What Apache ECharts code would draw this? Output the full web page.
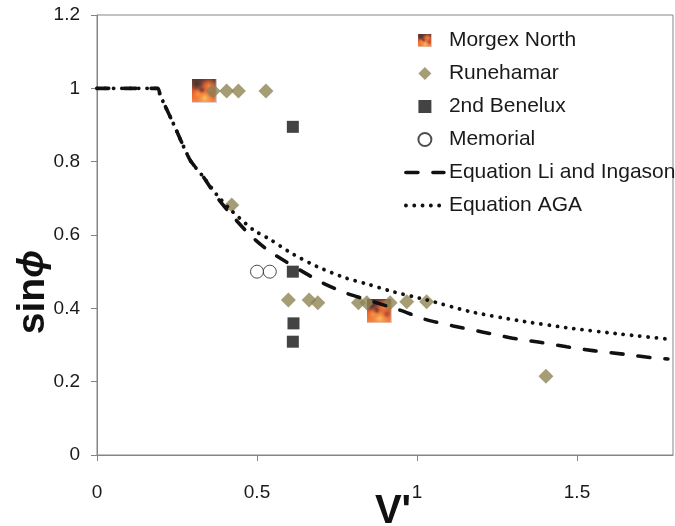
<!DOCTYPE html>
<html>
<head>
<meta charset="utf-8">
<script src="https://cdn.jsdelivr.net/npm/echarts@6/dist/echarts.min.js"></script>
<style>
  html, body { margin: 0; padding: 0; background: #ffffff; }
  #chart { width: 675px; height: 526px; }
</style>
</head>
<body>
<div id="chart"></div>
<script>
// ---- measured values ----
const morgexX = [0.335, 0.882];
const morgexY = [0.993, 0.392];

const runehamarX = [0.363, 0.405, 0.442, 0.528, 0.421, 0.598, 0.663, 0.690, 0.817, 0.843, 0.916, 0.968, 1.030, 1.403];
const runehamarY = [0.993, 0.993, 0.993, 0.993, 0.682, 0.423, 0.423, 0.415, 0.415, 0.415, 0.415, 0.418, 0.418, 0.215];

const beneluxX = [0.612, 0.612, 0.614, 0.612];
const beneluxY = [0.895, 0.500, 0.359, 0.309];

const memorialX = [0.500, 0.540];
const memorialY = [0.500, 0.500];

// Li and Ingason correlation
const liX = [0, 0.19, 0.197, 0.238, 0.291, 0.332, 0.374, 0.416, 0.478, 0.541, 0.697, 0.780, 0.947, 1.025, 1.113, 1.207, 1.291, 1.379, 1.468, 1.556, 1.645, 1.738, 1.784];
const liY = [1, 1, 0.982, 0.905, 0.804, 0.759, 0.704, 0.659, 0.600, 0.554, 0.473, 0.441, 0.395, 0.370, 0.352, 0.335, 0.320, 0.308, 0.295, 0.284, 0.275, 0.265, 0.262];

// AGA correlation
const agaX = [0, 0.19, 0.197, 0.238, 0.291, 0.332, 0.374, 0.416, 0.488, 0.541, 0.608, 0.687, 0.780, 0.853, 0.926, 1.030, 1.166, 1.322, 1.478, 1.634, 1.785];
const agaY = [1, 1, 0.982, 0.905, 0.804, 0.759, 0.710, 0.670, 0.614, 0.588, 0.550, 0.514, 0.482, 0.464, 0.445, 0.423, 0.391, 0.366, 0.346, 0.330, 0.316];

const xTickValues = [0, 0.5, 1, 1.5];
const seriesNames = ['Morgex North', 'Runehamar', '2nd Benelux', 'Memorial', 'Equation Li and Ingason', 'Equation AGA'];

const zip = (xs, ys) => xs.map((x, i) => [x, ys[i]]);

// Small flame picture used as the Morgex North marker
function flameIcon() {
  const c = document.createElement('canvas');
  c.width = 50; c.height = 48;
  const g = c.getContext('2d');
  let lg = g.createLinearGradient(0, 0, 0, 48);
  lg.addColorStop(0, '#3a0800');
  lg.addColorStop(0.45, '#c62e00');
  lg.addColorStop(1, '#ff6a12');
  g.fillStyle = lg;
  g.fillRect(0, 0, 50, 48);
  const blob = (x, y, r, inner, outer) => {
    const rg = g.createRadialGradient(x, y, 0, x, y, r);
    rg.addColorStop(0, inner);
    rg.addColorStop(1, outer);
    g.fillStyle = rg;
    g.beginPath(); g.arc(x, y, r, 0, Math.PI * 2); g.fill();
  };
  blob(34, 14, 16, 'rgba(255,110,20,0.95)', 'rgba(255,80,0,0)');
  blob(26, 38, 18, 'rgba(255,190,60,0.9)', 'rgba(255,120,20,0)');
  blob(12, 30, 12, 'rgba(255,140,30,0.8)', 'rgba(255,100,0,0)');
  blob(10, 10, 14, 'rgba(10,0,0,0.95)', 'rgba(20,0,0,0)');
  blob(20, 22, 7, 'rgba(30,0,0,0.8)', 'rgba(30,0,0,0)');
  blob(40, 30, 8, 'rgba(120,10,0,0.7)', 'rgba(120,10,0,0)');
  g.strokeStyle = 'rgba(200,210,225,0.9)';
  g.lineWidth = 2;
  g.beginPath(); g.moveTo(49, 0); g.lineTo(49, 47); g.lineTo(0, 47); g.stroke();
  return 'image://' + c.toDataURL('image/png');
}
const flame = flameIcon();

// legend icons drawn as paths so they keep a square aspect
const diamondIcon = 'path://M5,0L10,5L5,10L0,5Z';
const squareIcon = 'path://M0,0L10,0L10,10L0,10Z';

const FONT = "'Liberation Sans', Arial, sans-serif";
const axisGray = '#858585';

const dashedStyle = { color: '#111', width: 3.6, type: [12, 15], cap: 'round' };
const dottedStyle = { color: '#111', width: 3.8, type: [0.1, 8.2], cap: 'round' };

const chart = echarts.init(document.getElementById('chart'), null, { renderer: 'canvas' });

chart.setOption({
  backgroundColor: '#ffffff',
  animation: false,
  grid: {
    left: 97, top: 15, right: 2, bottom: 71,
    show: true, borderColor: axisGray, borderWidth: 1, backgroundColor: 'transparent'
  },
  xAxis: {
    type: 'value', min: 0, max: 1.8, interval: 0.5,
    axisLine: { show: true, onZero: false, lineStyle: { color: axisGray, width: 1 } },
    axisTick: { show: true, length: 6, lineStyle: { color: axisGray }, customValues: xTickValues },
    axisLabel: { margin: 28, color: '#1a1a1a', fontSize: 19, fontFamily: FONT, customValues: xTickValues },
    splitLine: { show: false }
  },
  yAxis: {
    type: 'value', min: 0, max: 1.2, interval: 0.2,
    axisLine: { show: true, lineStyle: { color: axisGray, width: 1 } },
    axisTick: { show: true, length: 6, lineStyle: { color: axisGray } },
    axisLabel: { margin: 17, color: '#1a1a1a', fontSize: 19, fontFamily: FONT,
      formatter: v => String(+v.toFixed(1)) },
    splitLine: { show: false }
  },
  legend: {
    orient: 'vertical', left: 404, top: 30, padding: 0,
    itemWidth: 38, itemHeight: 13, itemGap: 12, symbolKeepAspect: true,
    textStyle: { fontSize: 21, fontFamily: FONT, color: '#1a1a1a', lineHeight: 21 },
    data: [
      { name: seriesNames[0] },
      { name: seriesNames[1], icon: diamondIcon },
      { name: seriesNames[2], icon: squareIcon, itemStyle: { color: '#141414' } },
      { name: seriesNames[3] },
      { name: seriesNames[4], itemStyle: { opacity: 0 }, lineStyle: dashedStyle },
      { name: seriesNames[5], itemStyle: { opacity: 0 }, lineStyle: dottedStyle }
    ]
  },
  graphic: [
    {
      type: 'text', x: 33, y: 292, rotation: Math.PI / 2,
      style: {
        text: '{a|sin}{b|ϕ}',
        align: 'center', verticalAlign: 'middle',
        rich: {
          a: { font: "bold 39px 'Liberation Sans', Arial, sans-serif", fill: '#111' },
          b: { font: "italic bold 37px 'Liberation Sans', 'DejaVu Sans', sans-serif", fill: '#111' }
        }
      }
    },
    {
      type: 'text', x: 393, y: 492,
      style: {
        text: "V'", align: 'center', verticalAlign: 'top',
        font: "bold 40px 'Liberation Sans', Arial, sans-serif", fill: '#111'
      }
    }
  ],
  series: [
    {
      name: seriesNames[0], type: 'scatter',
      symbol: flame, symbolSize: [25, 24],
      data: zip(morgexX, morgexY), z: 2
    },
    {
      name: seriesNames[1], type: 'scatter',
      symbol: 'diamond', symbolSize: 15,
      itemStyle: { color: '#8f8554' },
      data: zip(runehamarX, runehamarY), z: 3
    },
    {
      name: seriesNames[2], type: 'scatter',
      symbol: 'rect', symbolSize: 12,
      itemStyle: { color: '#141414' },
      data: zip(beneluxX, beneluxY), z: 3
    },
    {
      name: seriesNames[3], type: 'scatter',
      symbol: 'circle', symbolSize: 13,
      itemStyle: { color: '#ffffff', borderColor: '#222', borderWidth: 1 },
      data: zip(memorialX, memorialY), z: 3
    },
    {
      name: seriesNames[4], type: 'line',
      symbol: 'none', showSymbol: false, smooth: 0.2,
      lineStyle: dashedStyle,
      itemStyle: { color: '#111' },
      data: zip(liX, liY), z: 4
    },
    {
      name: seriesNames[5], type: 'line',
      symbol: 'none', showSymbol: false, smooth: 0.2,
      lineStyle: dottedStyle,
      itemStyle: { color: '#111' },
      data: zip(agaX, agaY), z: 4
    }
  ]
});
</script>
</body>
</html>
